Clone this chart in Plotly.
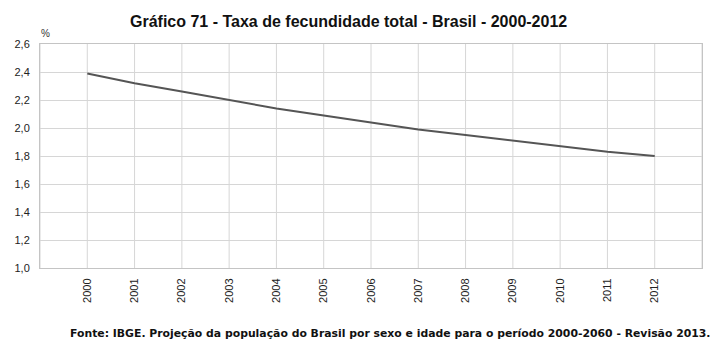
import plotly.graph_objects as go

years = [2000, 2001, 2002, 2003, 2004, 2005, 2006, 2007, 2008, 2009, 2010, 2011, 2012]
tft = [2.39, 2.32, 2.26, 2.20, 2.14, 2.09, 2.04, 1.99, 1.95, 1.91, 1.87, 1.83, 1.80]
y_ticks = [1.0, 1.2, 1.4, 1.6, 1.8, 2.0, 2.2, 2.4, 2.6]
title_text = "Gráfico 71 - Taxa de fecundidade total - Brasil - 2000-2012"
source_text = "Fonte: IBGE. Projeção da população do Brasil por sexo e idade para o período 2000-2060 - Revisão 2013."
unit_text = "%"

fig = go.Figure()
fig.add_trace(go.Scatter(
    x=years, y=tft, mode="lines",
    line=dict(color="#555555", width=2),
    showlegend=False, hoverinfo="x+y",
))

# the page body has an 8px margin, so the figure is offset by 8px
OFF = 8
W, H = 727 - OFF, 357 - OFF
# target plot area in window coords: x 40..702, y 44..268
ml, mt = 40 - OFF, 44 - OFF
mr = W - (702 - OFF)
mb = H - (268 - OFF)
PW, PH = W - ml - mr, H - mt - mb


def px(xw):
    return (xw - OFF - ml) / PW


def py(yw):
    return 1 - (yw - OFF - mt) / PH


fig.update_layout(
    width=W, height=H,
    margin=dict(l=ml, r=mr, t=mt, b=mb, pad=0, autoexpand=False),
    paper_bgcolor="white", plot_bgcolor="white",
    separators=",.",
    font=dict(family="Liberation Sans, Arial, sans-serif", size=11, color="#222"),
    xaxis=dict(
        range=[years[0] - 1, years[-1] + 1],
        tickmode="array", tickvals=years, ticktext=[str(y) for y in years],
        tickangle=-90, automargin=False,
        showgrid=False,
        showline=True, mirror=True, linecolor="#c4c4c4", linewidth=1,
        ticks="outside", ticklen=5, tickcolor="rgba(0,0,0,0)",
        zeroline=False, fixedrange=True,
    ),
    yaxis=dict(
        range=[y_ticks[0], y_ticks[-1]],
        tickmode="array", tickvals=y_ticks, tickformat=".1f",
        automargin=False,
        showgrid=True, gridcolor="#d6d6d6", gridwidth=1,
        showline=True, mirror=True, linecolor="#c4c4c4", linewidth=1,
        ticks="outside", ticklen=7, tickcolor="rgba(0,0,0,0)",
        zeroline=False, fixedrange=True,
    ),
)

# vertical gridlines at every year and the plot edges (through axis scale)
for yv in range(years[0] - 1, years[-1] + 2):
    fig.add_shape(type="line", xref="x", yref="y", x0=yv, x1=yv,
                  y0=y_ticks[0], y1=y_ticks[-1],
                  line=dict(color="#d6d6d6", width=1), layer="below")

fig.add_annotation(text="<b>" + title_text + "</b>", xref="paper", yref="paper",
                   x=px(348), y=py(22), xanchor="center", yanchor="middle",
                   showarrow=False,
                   font=dict(family="Liberation Sans, Arial, sans-serif", size=16, color="#111"))
fig.add_annotation(text=unit_text, xref="paper", yref="paper",
                   x=px(39), y=py(33), xanchor="left", yanchor="middle",
                   showarrow=False,
                   font=dict(family="Liberation Sans, Arial, sans-serif", size=10, color="#333"))
fig.add_annotation(text="<b>" + source_text + "</b>", xref="paper", yref="paper",
                   x=px(712), y=py(333),
                   xanchor="right", yanchor="middle", showarrow=False,
                   font=dict(family="DejaVu Sans, Verdana, sans-serif", size=10.85, color="#111"))

fig.write_html("out.html")
